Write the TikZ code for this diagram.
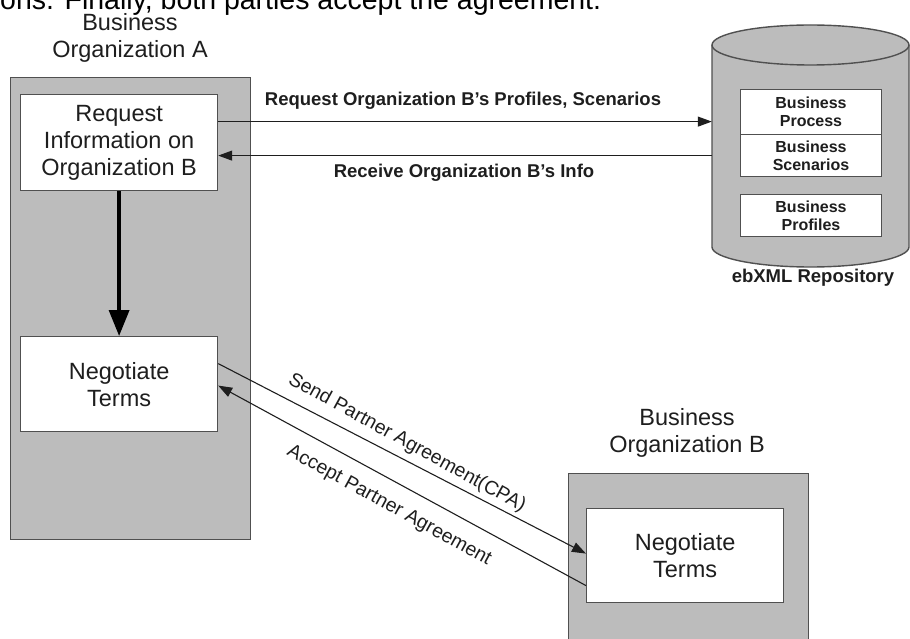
\documentclass[tikz,border=0pt]{standalone}
\usepackage{fontspec}
\setmainfont{Liberation Sans}
\usetikzlibrary{arrows.meta}
\definecolor{panelgray}{RGB}{188,188,188}
\definecolor{edgegray}{RGB}{80,80,80}
\definecolor{inkgray}{RGB}{30,30,30}

\begin{document}
\begin{tikzpicture}[x=1pt,y=-1pt,
  orgpanel/.style={draw=edgegray, line width=1.4pt, fill=panelgray, inner sep=0pt},
  taskbox/.style={draw=edgegray, line width=1.2pt, fill=white, inner sep=0pt,
    align=center, text=inkgray, font=\fontsize{23.5}{27}\selectfont},
  repobox/.style={draw=edgegray, line width=1pt, fill=white, inner sep=0pt,
    minimum width=141pt, align=center, text=inkgray,
    font=\bfseries\fontsize{16}{18}\selectfont},
  orgtitle/.style={align=center, text=inkgray, font=\fontsize{23.5}{27}\selectfont},
  msglabel/.style={text=inkgray, font=\bfseries\fontsize{18.5}{21}\selectfont},
  slantlabel/.style={text=inkgray, font=\fontsize{19.5}{22}\selectfont},
  msg/.style={draw=inkgray, line width=1.1pt, -{Triangle[length=14pt,width=10pt]}},
  flow/.style={draw=black, line width=3.5pt, -{Triangle[length=26pt,width=20pt]}}
]
\useasboundingbox (0,0) rectangle (910,639);
\clip (0,0) rectangle (910,639);

% running text above the figure
\node[anchor=base west, inner sep=0pt, text=black, font=\fontsize{28.5}{32}\selectfont]
  (caption) at (0,10) {ons. Finally, both parties accept the agreement.};

% organisation A
\node[orgtitle] (titleA) at (130,37.5) {Business\\Organization A};
\node[orgpanel, minimum width=240pt, minimum height=462pt, anchor=north west] (orgA) at (10,77) {};
\node[taskbox, minimum width=197pt, minimum height=96pt, anchor=north west] (req) at (20,94)
  {Request\\Information on\\Organization B};
\node[taskbox, minimum width=197pt, minimum height=95pt, anchor=north west] (negA) at (20,336)
  {Negotiate\\Terms};

% organisation B
\node[orgtitle] (titleB) at (687,433) {Business\\Organization B};
\node[orgpanel, minimum width=240pt, minimum height=190pt, anchor=north west] (orgB) at (568,473) {};
\node[taskbox, minimum width=197pt, minimum height=94pt, anchor=north west] (negB) at (586,508)
  {Negotiate\\Terms};

% ebXML repository cylinder
\node[minimum width=197pt, minimum height=202pt, inner sep=0pt] (repo) at (810.5,146) {};
\fill[panelgray] (712,45) -- (712,247) arc[start angle=180, end angle=0, x radius=98.5, y radius=20]
  -- (909,45) -- cycle;
\draw[edgegray, line width=1.4pt] (712,45) -- (712,247)
  arc[start angle=180, end angle=0, x radius=98.5, y radius=20] -- (909,45);
\draw[edgegray, line width=1.4pt, fill=panelgray] (810.5,45) ellipse[x radius=98.5, y radius=20];
\node[repobox, minimum height=45pt, anchor=north west] (proc) at (740,89) {Business\\Process};
\node[repobox, minimum height=42pt, anchor=north west] (scen) at (740,134) {Business\\Scenarios};
\node[repobox, minimum height=42pt, anchor=north west] (prof) at (740,194) {Business\\Profiles};
\node[msglabel] (repolabel) at (813,278) {ebXML Repository};

% messages between A and the repository
\draw[msg] ([yshift=21pt]req.east) -- ([yshift=21pt]req.east -| repo.west);
\draw[msg] ([yshift=-13pt]req.east -| repo.west) -- ([yshift=-13pt]req.east);
\node[msglabel] (reqlabel) at (463,101) {Request Organization B's Profiles, Scenarios};
\node[msglabel] (rcvlabel) at (464,173) {Receive Organization B's Info};

% internal step of A
\draw[flow] (req.south) -- (negA.north);

% negotiation between A and B
\draw[msg] ([yshift=20.5pt]negA.east) -- ([yshift=2pt]negB.west);
\draw[msg] ([yshift=-30pt]negB.west) -- ([yshift=-1.5pt]negA.east);
\node[slantlabel, rotate=-28.8] (sendlabel) at (407,443) {Send Partner Agreement(CPA)};
\node[slantlabel, rotate=-28.8] (acclabel) at (389,506) {Accept Partner Agreement};
\end{tikzpicture}
\end{document}
